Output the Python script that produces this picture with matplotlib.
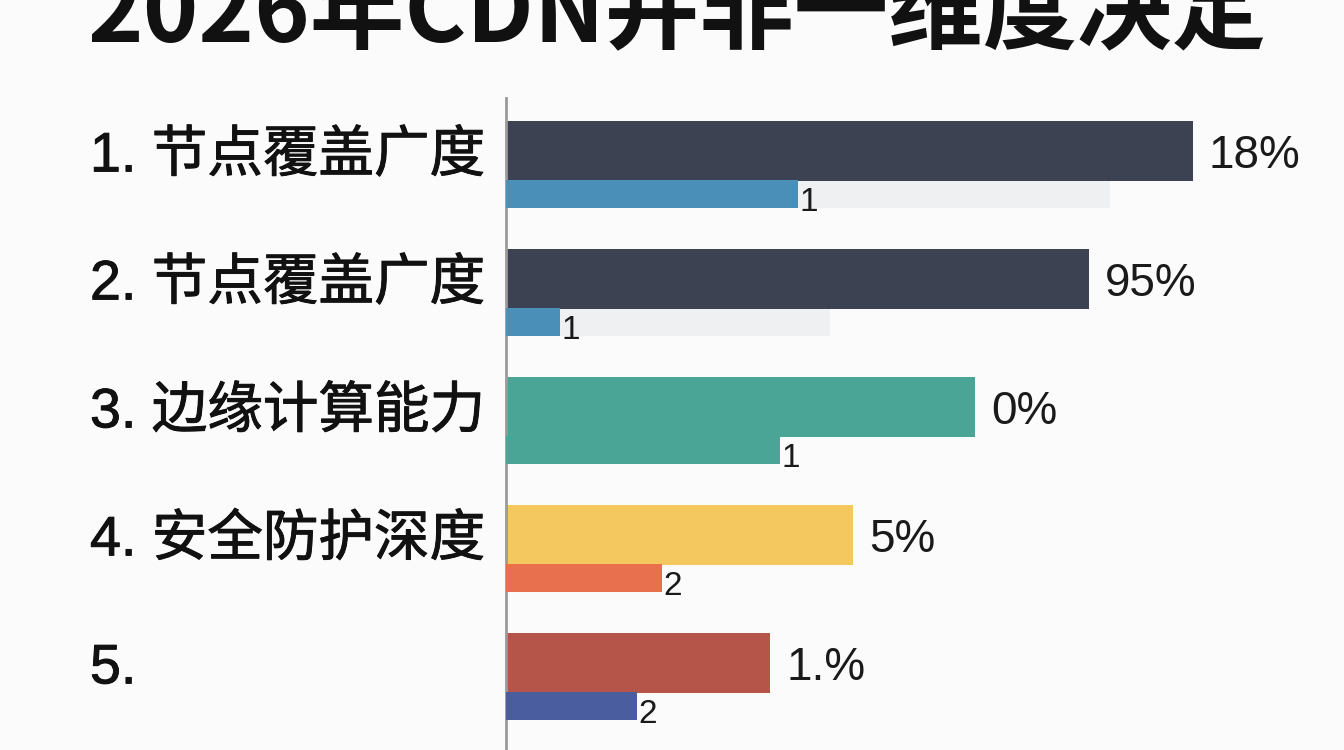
import matplotlib
matplotlib.use("Agg")
import matplotlib.pyplot as plt
import matplotlib.transforms as mtransforms
import matplotlib.patheffects as pe
import numpy as np

plt.rcParams['font.family'] = ['Liberation Sans', 'Noto Sans CJK SC', 'DejaVu Sans']

title = "2026年CDN并非一维度决定"
labels = ["1. 节点覆盖广度", "2. 节点覆盖广度", "3. 边缘计算能力", "4. 安全防护深度", "5."]
main_vals = [68.7, 58.3, 46.9, 34.7, 26.4]
main_text = ["18%", "95%", "0%", "5%", "1.%"]
sub_vals = [29.2, 5.4, 27.4, 15.6, 13.1]
sub_text = ["1", "1", "1", "2", "2"]
ghost_vals = [60.4, 32.4, 0, 0, 0]

main_colors = ["#3d4253", "#3d4253", "#4aa596", "#f4c85e", "#b5554a"]
sub_colors = ["#4a8fb8", "#4a8fb8", "#4aa596", "#e8704e", "#4a5d9e"]

fig = plt.figure(figsize=(13.44, 7.5), dpi=100)
fig.patch.set_facecolor("#fbfbfb")
ax = fig.add_axes([506 / 1344, 0, 800 / 1344, 652 / 750])
ax.set_facecolor("#fbfbfb")

y = np.arange(len(labels))
h_main, h_sub, off = 0.47, 0.22, 0.335

ax.barh(y + off, ghost_vals, height=h_sub, color="#eef0f1", zorder=1)
ax.barh(y, main_vals, height=h_main, color=main_colors, zorder=2)
ax.barh(y + off, sub_vals, height=h_sub, color=sub_colors, zorder=3)

# labels sit left of the axis, x in figure coords, y in data coords
lab_tr = mtransforms.blended_transform_factory(fig.transFigure, ax.transData)
semi = [pe.withStroke(linewidth=0.7, foreground="#111111")]
for i in range(len(labels)):
    ax.text(main_vals[i] + 1.6, y[i] + 0.04, main_text[i], va="center", ha="left",
            fontsize=33, color="#1a1a1a")
    ax.text(sub_vals[i] + 0.1, y[i] + off + 0.07, sub_text[i], va="center", ha="left",
            fontsize=24, color="#1a1a1a")
    ax.text(90 / 1344, y[i] + 0.05, labels[i], ha="left", va="center", fontsize=40,
            color="#111111", transform=lab_tr, path_effects=semi,
            family=['Liberation Sans', 'Noto Sans CJK SC'])

ax.set_xlim(0, 80)
ax.set_ylim(4.68, -0.414)
ax.set_xticks([])
ax.set_yticks([])
for s in ["top", "right", "bottom"]:
    ax.spines[s].set_visible(False)
ax.spines["left"].set_color("#9a9a9a")
ax.spines["left"].set_linewidth(2)

fig.text(88 / 1344, 1 - 42 / 750, title, ha="left", va="baseline", fontsize=68,
         fontweight="bold", color="#111111",
         family=['Noto Sans CJK SC', 'DejaVu Sans'])

fig.savefig("out.png", dpi=100, facecolor=fig.get_facecolor())
